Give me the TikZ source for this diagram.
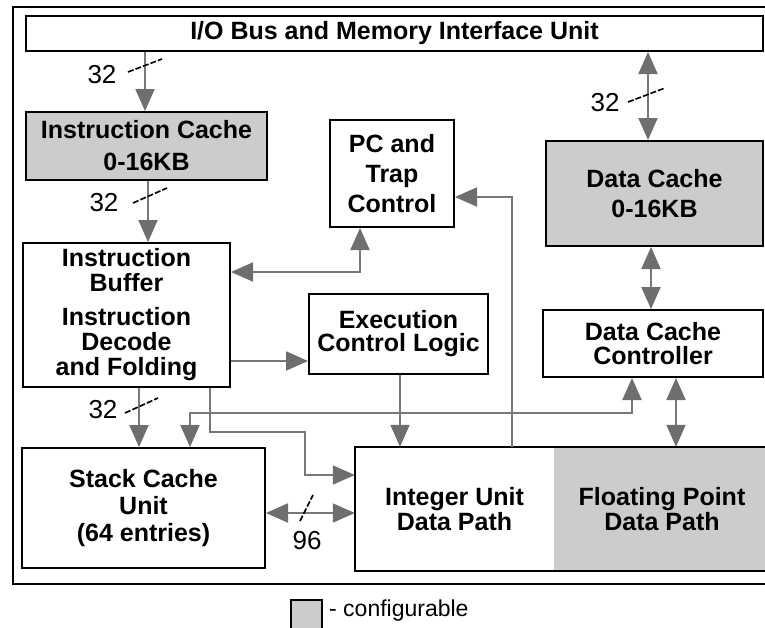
\documentclass[tikz,border=0pt]{standalone}
\usepackage{fontspec}
\setmainfont{Liberation Sans}
\usetikzlibrary{arrows.meta}
\definecolor{cfggray}{gray}{0.8}
\definecolor{linegray}{gray}{0.47}
\definecolor{tipgray}{gray}{0.43}
\newcommand\lblfont[1]{\bfseries\fontsize{25}{#1}\selectfont}
\newcommand\numfont{\fontsize{26}{28}\selectfont}
\begin{document}
\begin{tikzpicture}[x=1pt,y=-1pt,
  box/.style={draw=black, line width=2pt, fill=white, inner sep=0pt, align=center},
  cfgbox/.style={box, fill=cfggray},
  conn/.style={draw=linegray, line width=2pt},
  tipshape/.style={Triangle[length=22pt,width=19pt,color=tipgray]},
  arr/.style={conn, -{Triangle[length=22pt,width=19pt,color=tipgray]}},
  barr/.style={conn, {Triangle[length=22pt,width=19pt,color=tipgray]}-{Triangle[length=22pt,width=19pt,color=tipgray]}},
  slashmark/.style={black, line width=1.6pt, dash pattern=on 6pt off 2pt},
  num/.style={font=\numfont, inner sep=0pt}
]
\useasboundingbox (0,0) rectangle (765,627);
\clip (0,0) rectangle (765,627);
\fill[white] (0,0) rectangle (765,627);

% outer frame
\draw[line width=2.5pt] (790,7) -- (13,7) -- (13,584) -- (790,584);

% boxes
\node[box, minimum width=737pt, minimum height=35pt, font=\lblfont{26}] (io) at (394.5,33.5) {I/O Bus and Memory Interface Unit};
\node[cfgbox, minimum width=241pt, minimum height=68pt, font=\lblfont{32}] (ic) at (146.5,146) {Instruction Cache\\0-16KB};
\node[box, minimum width=124pt, minimum height=107pt, font=\lblfont{30}] (pc) at (392,173.5) {PC and\\Trap\\Control};
\node[cfgbox, minimum width=217pt, minimum height=105pt, font=\lblfont{30}] (dc) at (654.5,193.5) {Data Cache\\0-16KB};
\node[box, minimum width=207pt, minimum height=144pt, font=\lblfont{25}] (ib) at (126.5,315) {Instruction\\Buffer\\[9pt]Instruction\\Decode\\and Folding};
\node[box, minimum width=179pt, minimum height=80pt, font=\lblfont{23}] (ecl) at (398.5,334) {Execution\\Control Logic};
\node[box, minimum width=220pt, minimum height=67pt, font=\lblfont{24}] (dcc) at (653,343.5) {Data Cache\\Controller};
\node[box, minimum width=243pt, minimum height=120pt, font=\lblfont{27}] (sc) at (143.5,508) {Stack Cache\\Unit\\(64 entries)};
\node[inner sep=0pt, minimum width=199pt, minimum height=124pt, align=center, font=\lblfont{25}] (iu) at (454.5,509) {Integer Unit\\Data Path};
\node[inner sep=0pt, minimum width=216pt, minimum height=124pt, fill=cfggray, align=center, font=\lblfont{25}] (fp) at (662,509) {Floating Point\\Data Path};
\draw[line width=2pt] (iu.north west) rectangle (fp.south east);

% helper coordinates
\coordinate (x139) at (139,0);
\coordinate (x145) at (145,0);
\coordinate (x148) at (148,0);
\coordinate (x190) at (190,0);
\coordinate (x210) at (210,0);
\coordinate (x305) at (305,0);
\coordinate (x360) at (360,0);
\coordinate (x400) at (400,0);
\coordinate (x512) at (512,0);
\coordinate (x632) at (632,0);
\coordinate (x648) at (648,0);
\coordinate (x651) at (651,0);
\coordinate (x676) at (676,0);
\coordinate (y197) at (0,197);
\coordinate (y272) at (0,272);
\coordinate (y361) at (0,361);
\coordinate (y413) at (0,413);
\coordinate (y432) at (0,432);
\coordinate (y475) at (0,475);
\coordinate (y513) at (0,513);

% connectors
\draw[arr] (x145 |- io.south) -- (x145 |- ic.north);
\draw[arr] (x148 |- ic.south) -- (x148 |- ib.north);
\draw[barr] (x648 |- io.south) -- (x648 |- dc.north);
\draw[barr] (x651 |- dc.south) -- (x651 |- dcc.north);
\draw[barr] (ib.east |- y272) -| (x360 |- pc.south);
\draw[arr] (x512 |- iu.north) |- (pc.east |- y197);
\draw[arr] (ib.east |- y361) -- (ecl.west |- y361);
\draw[arr] (x400 |- ecl.south) -- (x400 |- iu.north);
\draw[arr] (x139 |- ib.south) -- (x139 |- sc.north);
\draw[arr] (x210 |- ib.south) -- (x210 |- y432) -| (x305 |- y475) -- (iu.west |- y475);
\draw[barr] (x632 |- dcc.south) |- (x190 |- y413) -- (x190 |- sc.north);
\draw[barr] (x676 |- dcc.south) -- (x676 |- fp.north);
\draw[barr] (sc.east |- y513) -- (iu.west |- y513);

% bus width marks
\draw[slashmark] (128,72) -- (162,59);
\node[num] (n1) at (102,75) {32};
\draw[slashmark] (133,203) -- (167,188);
\node[num] (n2) at (104,203) {32};
\draw[slashmark] (628,102) -- (665,88);
\node[num] (n3) at (605,103) {32};
\draw[slashmark] (125,413) -- (158,398);
\node[num] (n4) at (103,410) {32};
\draw[slashmark] (300,521) -- (313,495);
\node[num] (n5) at (307,541) {96};

% legend
\node[draw=black, line width=2pt, fill=cfggray, minimum width=31pt, minimum height=32pt, inner sep=0pt] (lg) at (306.5,616) {};
\node[anchor=west, inner sep=0pt, font=\fontsize{23}{26}\selectfont] (lgt) at (329,611) {- configurable};
\end{tikzpicture}
\end{document}
